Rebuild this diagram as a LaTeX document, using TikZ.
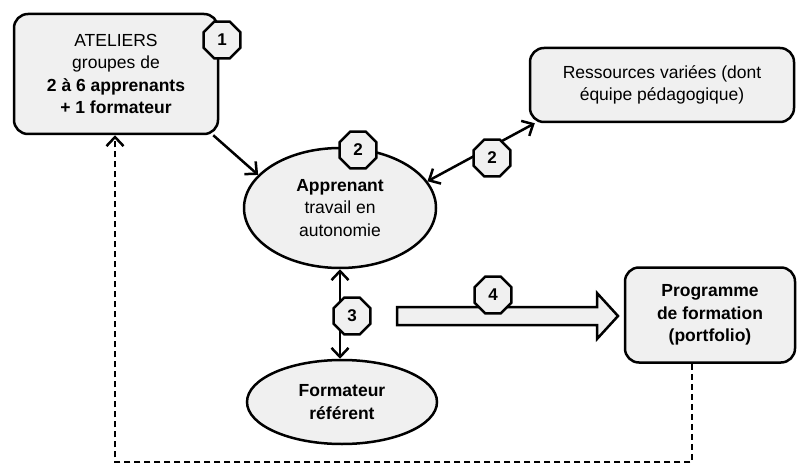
\documentclass[tikz,border=0pt]{standalone}
\usepackage{fontspec}
\setmainfont{Liberation Sans}
\usetikzlibrary{shapes.geometric,arrows.meta}
\definecolor{boxgray}{RGB}{240,240,240}

\begin{document}
\begin{tikzpicture}
  [x=1pt,y=-1pt,line width=2.5pt,
   every node/.style={font=\fontsize{17.5}{22.5}\selectfont,align=center,fill=boxgray,draw,inner sep=0pt},
   bloc/.style={rounded corners=14pt},
   bulle/.style={ellipse},
   num/.style={regular polygon,regular polygon sides=8,minimum size=40pt,font=\fontsize{17}{20}\selectfont\bfseries},
   fleche/.style={-{Straight Barb[length=9pt,width=17pt]}},
   double/.style={{Straight Barb[length=9pt,width=17pt]}-{Straight Barb[length=9pt,width=17pt]}}]
  \useasboundingbox (0,0) rectangle (797,465);

  \node[bloc,minimum width=204pt,minimum height=120pt] (ateliers) at (116,74)
    {ATELIERS\\groupes de\\\textbf{2 à 6 apprenants}\\\textbf{+ 1 formateur}};
  \node[bloc,minimum width=264pt,minimum height=74pt] (ressources) at (662,85)
    {Ressources variées (dont\\équipe pédagogique)};
  \node[bulle,minimum width=192pt,minimum height=120pt] (apprenant) at (340,208)
    {\textbf{Apprenant}\\travail en\\autonomie};
  \node[bulle,minimum width=190pt,minimum height=84pt] (referent) at (342,402)
    {\textbf{Formateur}\\\textbf{référent}};
  \node[bloc,minimum width=170pt,minimum height=95pt] (programme) at (710,315)
    {\textbf{Programme}\\\textbf{de formation}\\\textbf{(portfolio)}};

  \coordinate (coin1) at (692,462);
  \coordinate (coin2) at (115,462);

  \draw[fleche] ([xshift=-6pt]ateliers.south east) -- (apprenant.158);
  \draw[double] (apprenant.17) -- ([xshift=6pt]ressources.south west);
  \draw[double] (apprenant.south) -- (apprenant.south |- referent.north);
  \draw[fleche,dash pattern=on 6pt off 4pt] (programme.south -| coin1) -- (coin1) -- (coin2) -- (ateliers.south -| coin2);

  % grosse fleche vers le programme
  \draw[fill=boxgray] (397,307) -- (597,307) -- (597,293) -- (618,316) -- (597,339) -- (597,325) -- (397,325) -- cycle;

  \node[num] (n1) at (222,40) {1};
  \node[num] (n2) at (358,150) {2};
  \node[num] (n3) at (492,158) {2};
  \node[num] (n4) at (352,316) {3};
  \node[num] (n5) at (493,295) {4};

\end{tikzpicture}
\end{document}
